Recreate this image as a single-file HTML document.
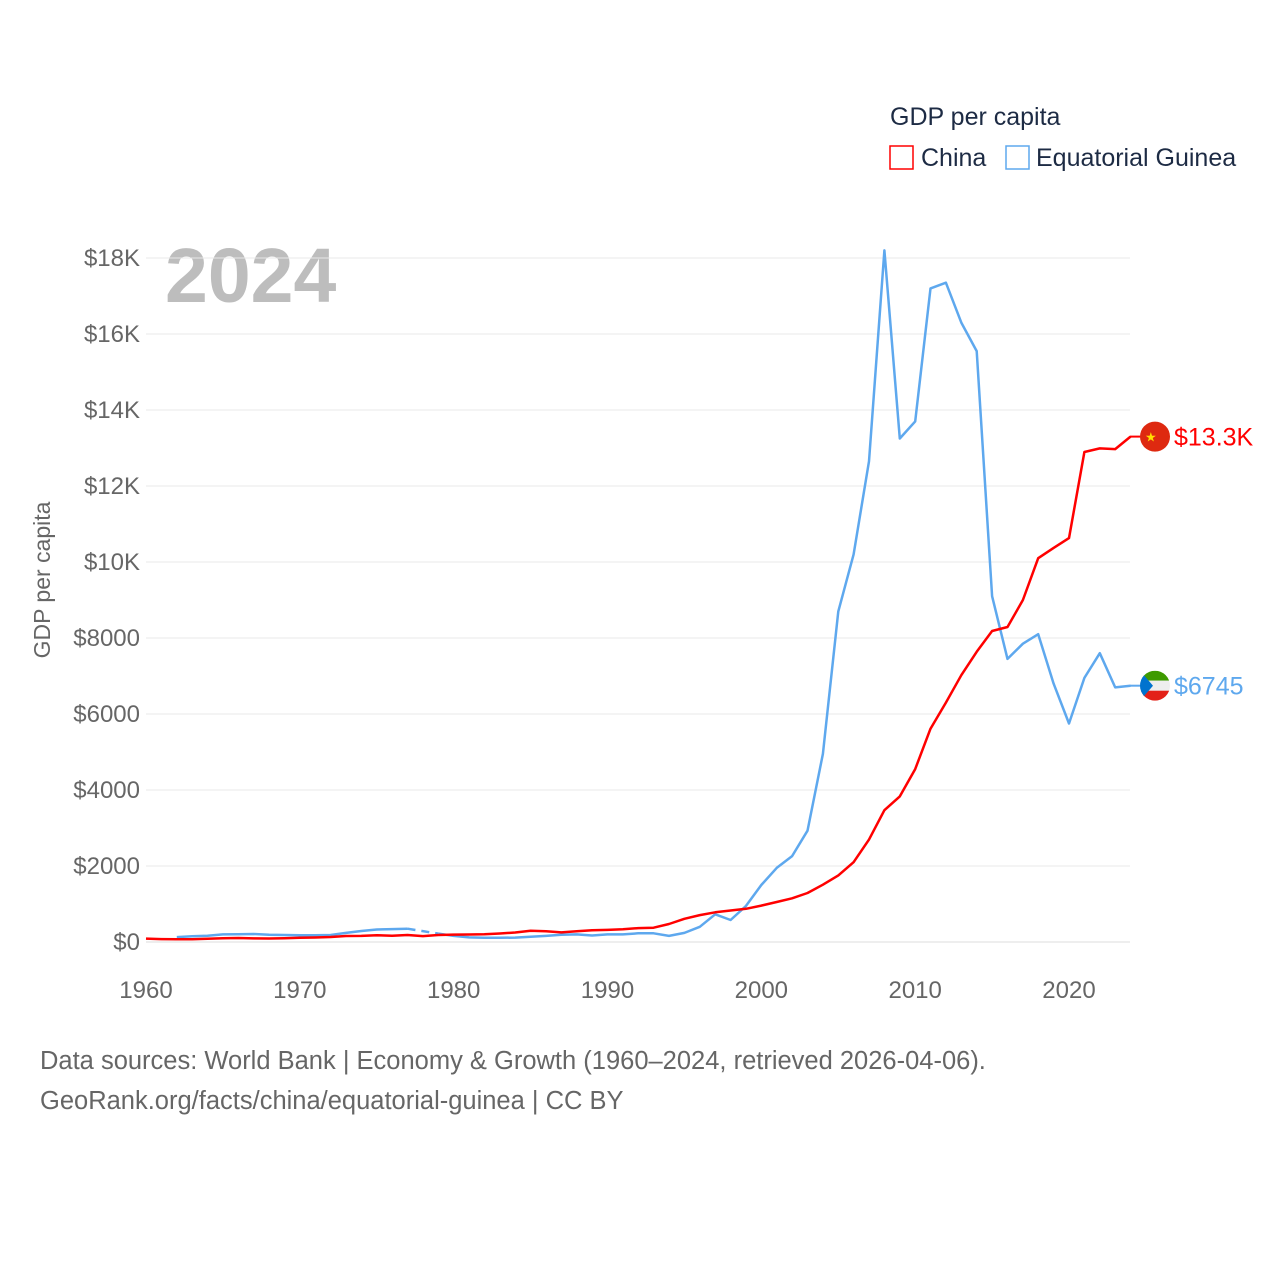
<!DOCTYPE html>
<html><head><meta charset="utf-8"><style>
html,body{margin:0;padding:0;background:#fff;}
body{width:1280px;height:1280px;overflow:hidden;font-family:"Liberation Sans",sans-serif;}
svg text{font-family:"Liberation Sans",sans-serif;}
</style></head><body>
<svg id="chart" width="1280" height="1280" xmlns="http://www.w3.org/2000/svg">
<text x="890" y="125" font-size="25" fill="#1d2b44">GDP per capita</text>
<rect x="890" y="146" width="23" height="23" fill="none" stroke="#ff0000" stroke-width="1.5"/>
<text x="921" y="166" font-size="25" fill="#1d2b44">China</text>
<rect x="1006" y="146" width="23" height="23" fill="none" stroke="#5ea8ee" stroke-width="1.5"/>
<text x="1036" y="166" font-size="25" fill="#1d2b44">Equatorial Guinea</text>
<text x="165" y="302" font-size="77" font-weight="bold" fill="#bdbdbd">2024</text>
<text transform="translate(50,580) rotate(-90)" text-anchor="middle" font-size="23" fill="#666">GDP per capita</text>
<g id="grid"></g><g id="xt"></g><g id="series"></g><g id="labels"></g>
<text x="40" y="1069" font-size="25.5" fill="#666">Data sources: World Bank | Economy &amp; Growth (1960–2024, retrieved 2026-04-06).</text>
<text x="40" y="1109" font-size="25.5" fill="#666">GeoRank.org/facts/china/equatorial-guinea | CC BY</text>
</svg>
<script>
const years=[];for(let y=1960;y<=2024;y++)years.push(y);
const chinaValues=[90,76,70,74,85,98,104,96,91,100,113,119,132,157,160,178,165,185,156,184,195,197,203,225,251,294,282,252,284,310,318,333,366,377,473,610,709,782,829,873,959,1053,1149,1289,1509,1753,2099,2694,3468,3832,4550,5614,6301,7020,7636,8184,8290,9000,10100,10370,10630,12895,12990,12970,13300];
const eqGuineaValues=[null,null,130,150,165,200,205,210,190,185,180,180,185,240,290,330,340,350,null,220,160,120,110,110,115,140,160,190,200,170,200,200,230,230,160,240,400,730,580,950,1500,1950,2260,2930,4950,8700,10200,12650,18200,13250,13700,17200,17350,16300,15550,9100,7450,7850,8100,6800,5750,6950,7600,6700,6745];
const yTicks=[0,2000,4000,6000,8000,10000,12000,14000,16000,18000];
const yTickLabels=["$0","$2000","$4000","$6000","$8000","$10K","$12K","$14K","$16K","$18K"];
const xTicks=[1960,1970,1980,1990,2000,2010,2020];
const endLabels=["$13.3K","$6745"];
const NS="http://www.w3.org/2000/svg";
const X=y=>146+(y-1960)*(1069-146)/60;
const Y=v=>942-v*(942-258)/18000;
function mk(t,a,p){const e=document.createElementNS(NS,t);for(const k in a)e.setAttribute(k,a[k]);(p||document.getElementById('series')).appendChild(e);return e;}
const g=document.getElementById('grid');
yTicks.forEach((v,i)=>{
 const l=mk('line',{x1:146,x2:1130,y1:Y(v),y2:Y(v),stroke:i==0?'#ddd':'#e8e8e8','stroke-width':1},g);
 
 
 const t=mk('text',{x:140,y:Y(v)+8,'text-anchor':'end','font-size':24,fill:'#666'},g);
 t.textContent=yTickLabels[i];
 
 
});
const xt=document.getElementById('xt');
xTicks.forEach(y=>{
 const t=mk('text',{x:X(y),y:998,'text-anchor':'middle','font-size':24,fill:'#666'},xt);
 t.textContent=y;
 
 
});
function draw(vals,color,name){
 let d='',pen=false,last=null;
 vals.forEach((v,i)=>{
  if(v==null){pen=false;return;}
  if(last!=null && !pen && i-last>1){
   const dl=mk('line',{x1:X(years[last]),y1:Y(vals[last]),x2:X(years[i]),y2:Y(v),stroke:color,'stroke-width':2.5,'stroke-dasharray':'8,6'});
   
   
  }
  d+=(pen?'L':'M')+X(years[i]).toFixed(1)+','+Y(v).toFixed(1);pen=true;last=i;
 });
 const p=mk('path',{d:d,fill:'none',stroke:color,'stroke-width':2.5,'stroke-linejoin':'round'});
 
 
}
draw(eqGuineaValues,'#5ea8ee','equatorial-guinea');
draw(chinaValues,'#ff0000','china');
const lb=document.getElementById('labels');
function endLabel(v,color,txt,name,flag){
 const y=Y(v);
 const c1=mk('line',{x1:1130,x2:1142,y1:y,y2:y,stroke:color,'stroke-width':2},lb);
 
 
 const gg=mk('g',{},lb);
 
 
 flag(gg,1155,y);
 const t=mk('text',{x:1174,y:y+9,'font-size':25,fill:color},lb);
 t.textContent=txt;
 
 
}
endLabel(chinaValues[chinaValues.length-1],'#ff0000',endLabels[0],'china',(gg,cx,cy)=>{
 mk('circle',{cx:cx,cy:cy,r:15,fill:'#de2910'},gg);
 const s=mk('text',{x:cx-10,y:cy+5,'font-size':13,fill:'#ffde00'},gg);s.textContent='★';
});
endLabel(eqGuineaValues[eqGuineaValues.length-1],'#5ea8ee',endLabels[1],'equatorial-guinea',(gg,cx,cy)=>{
 const cp=mk('clipPath',{id:'eqc'},gg);mk('circle',{cx:cx,cy:cy,r:15},cp);
 const h=mk('g',{'clip-path':'url(#eqc)'},gg);
 mk('rect',{x:cx-15,y:cy-15,width:30,height:10,fill:'#3e9a00'},h);
 mk('rect',{x:cx-15,y:cy-5,width:30,height:10,fill:'#eee'},h);
 mk('rect',{x:cx-15,y:cy+5,width:30,height:10,fill:'#e32118'},h);
 mk('polygon',{points:`${cx-15},${cy-15} ${cx-2},${cy} ${cx-15},${cy+15}`,fill:'#0073ce'},h);
});
</script>
</body></html>
